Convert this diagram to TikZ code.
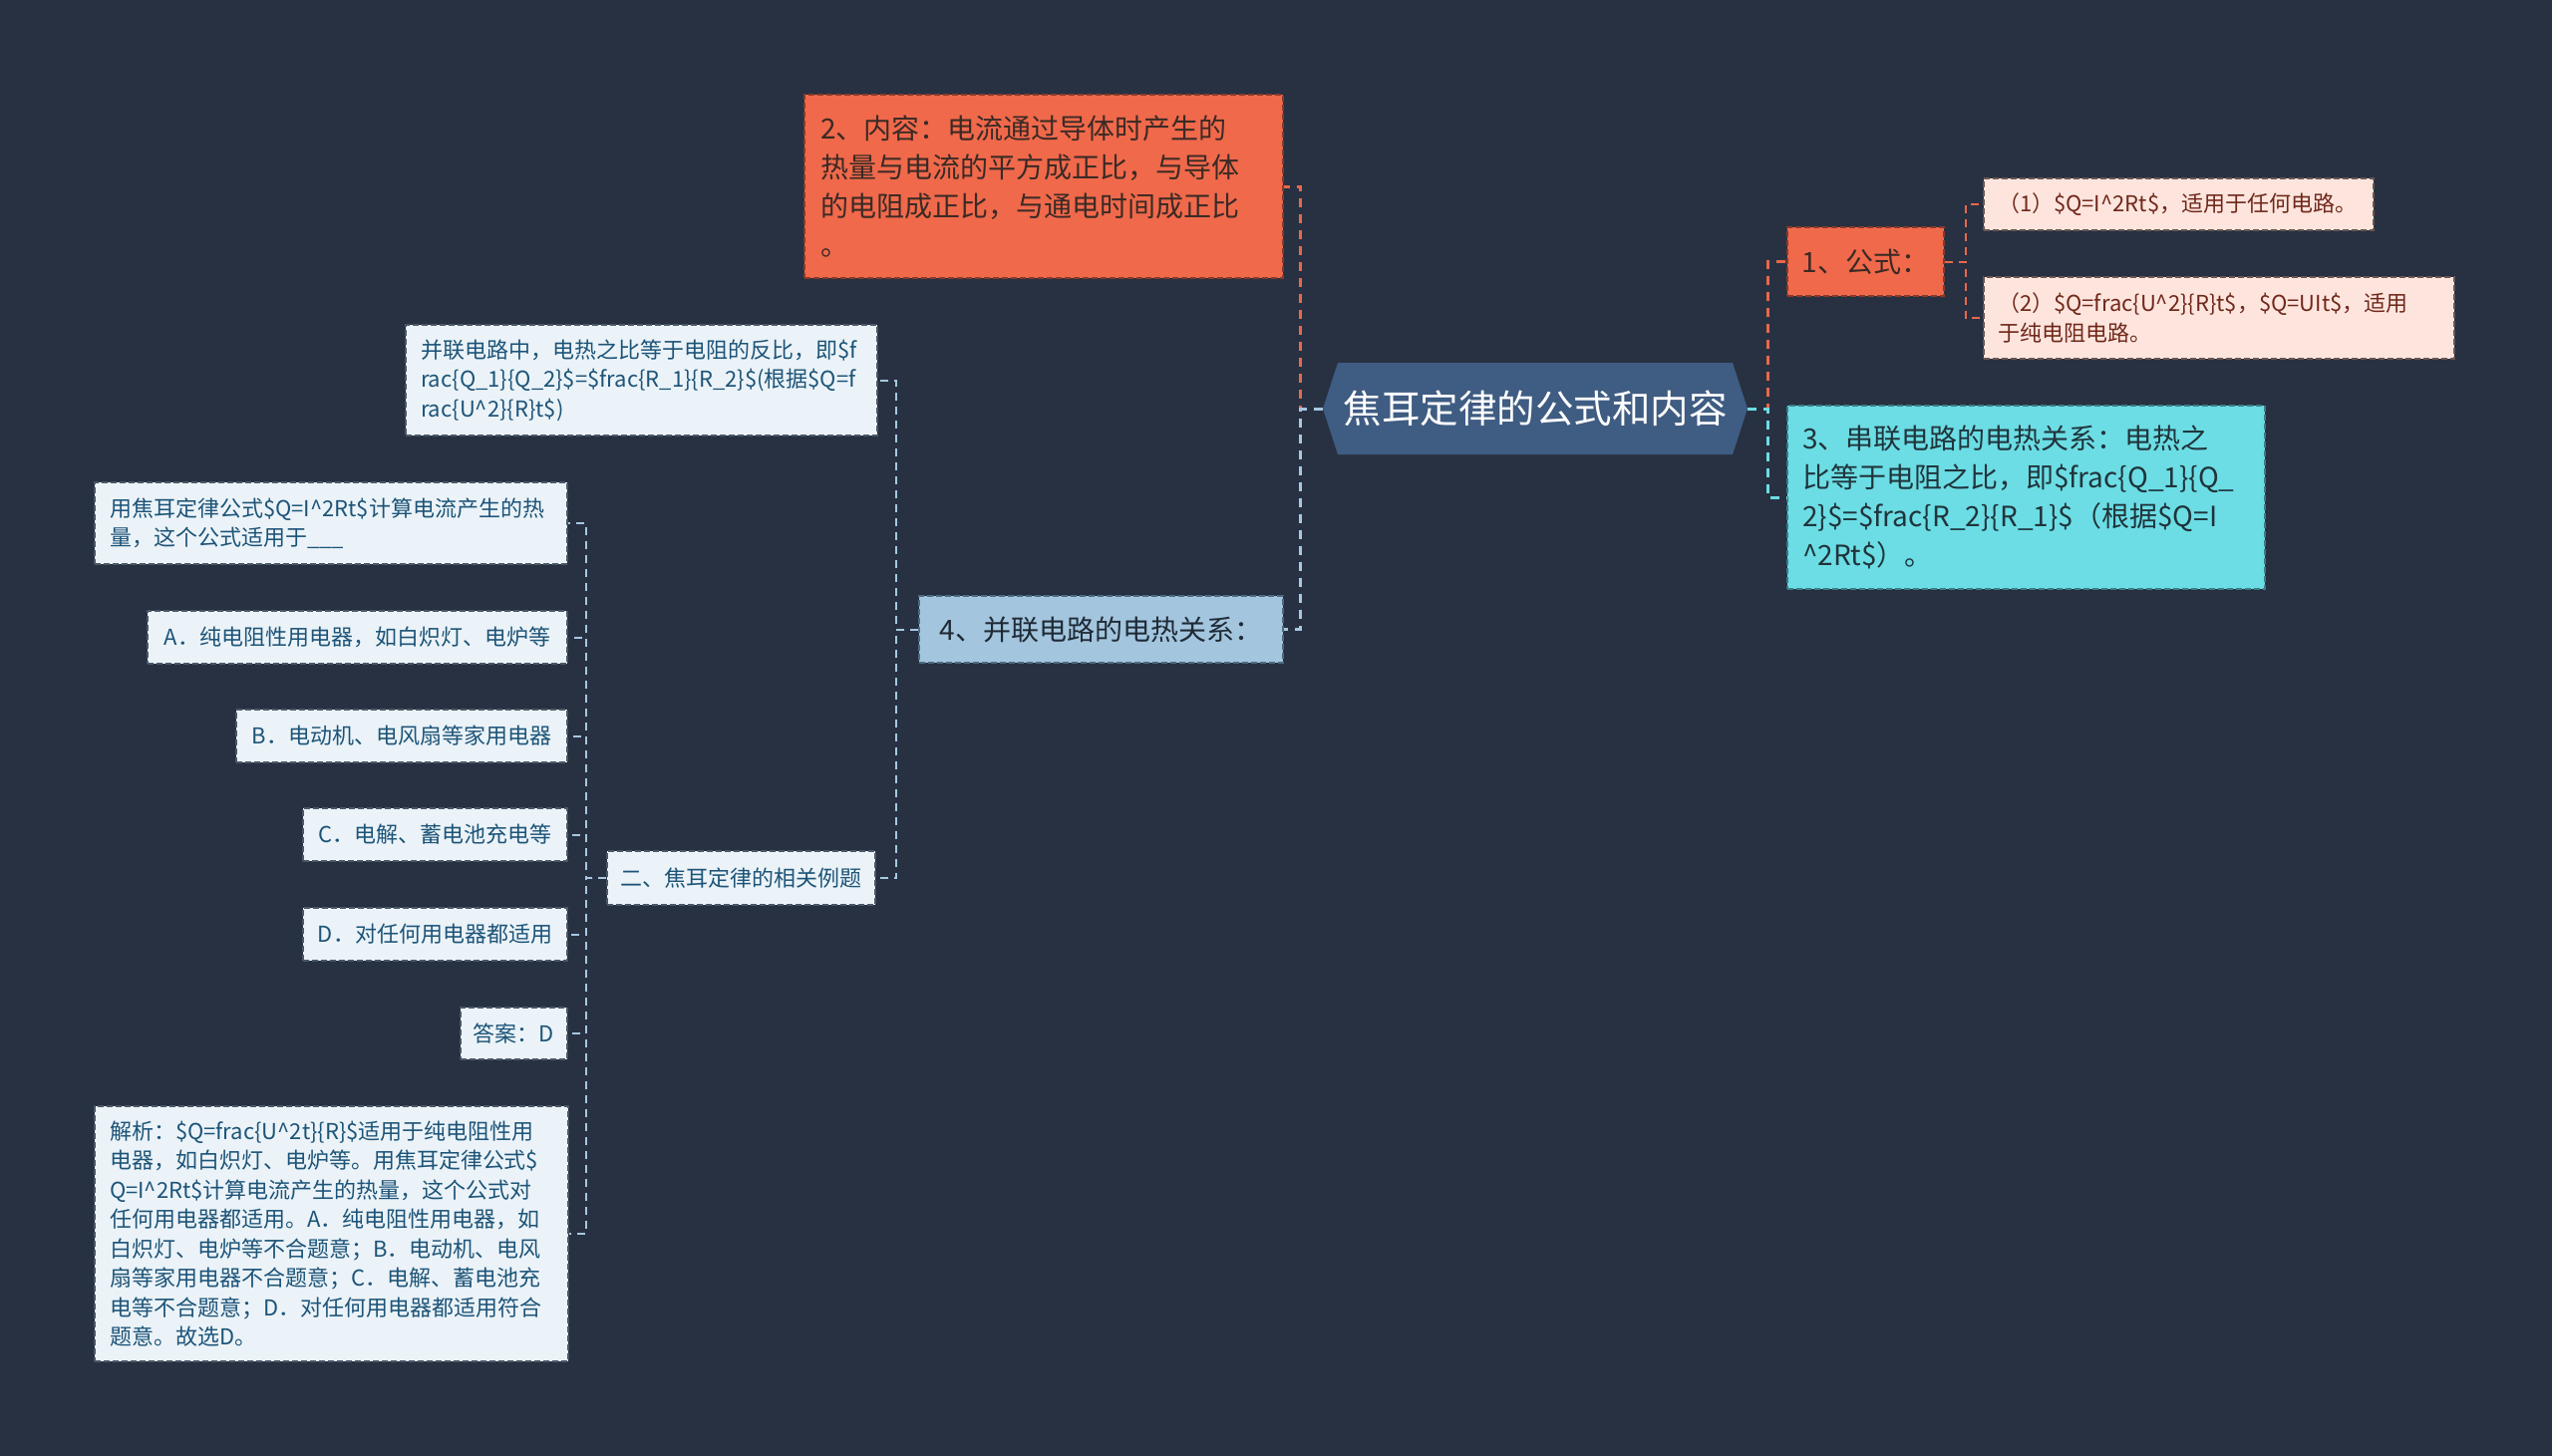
\documentclass[tikz,border=0pt]{standalone}
\usepackage{fontspec}
\setmainfont{Noto Sans CJK SC}
\definecolor{bg}{HTML}{283142}
\definecolor{cRoot}{HTML}{3F5C82}
\definecolor{cOr}{HTML}{F0694B}
\definecolor{cOrB}{HTML}{8A3A28}
\definecolor{cOrT}{HTML}{3A2A25}
\definecolor{cPk}{HTML}{FDE5DE}
\definecolor{cPkB}{HTML}{6A5550}
\definecolor{cPkT}{HTML}{70281A}
\definecolor{cCy}{HTML}{6CDDE4}
\definecolor{cCyB}{HTML}{3A7E84}
\definecolor{cCyT}{HTML}{20343C}
\definecolor{cSt}{HTML}{A3C5DE}
\definecolor{cStB}{HTML}{4E6A80}
\definecolor{cStT}{HTML}{1F2A36}
\definecolor{cLt}{HTML}{EBF3F8}
\definecolor{cLtB}{HTML}{4A5868}
\definecolor{cLtT}{HTML}{1D5478}
\definecolor{lnOr}{HTML}{E8684B}
\definecolor{lnBl}{HTML}{A6C8E0}
\definecolor{lnCy}{HTML}{6CDDE4}
\newcommand\FsRoot{\fontsize{38.5}{46}\selectfont}
\newcommand\FsBig{\fontsize{28}{39}\selectfont}
\newcommand\FsSm{\fontsize{22}{29.5}\selectfont}
\newcommand\crt{\textasciicircum}
\tikzset{
  bx/.style={rectangle, line width=1.5pt, dash pattern=on 6pt off 3pt, inner ysep=0pt, anchor=center},
  orbox/.style={bx, fill=cOr, draw=cOrB, text=cOrT, font=\FsBig},
  pkbox/.style={bx, fill=cPk, draw=cPkB, text=cPkT, font=\FsSm},
  cybox/.style={bx, fill=cCy, draw=cCyB, text=cCyT, font=\FsBig},
  stbox/.style={bx, fill=cSt, draw=cStB, text=cStT, font=\FsBig},
  ltbox/.style={bx, fill=cLt, draw=cLtB, text=cLtT, font=\FsSm},
  conA/.style={line width=3pt, dash pattern=on 9pt off 7pt},
  conB/.style={line width=2pt, dash pattern=on 8pt off 6pt},
}
\begin{document}
\begin{tikzpicture}[x=1pt,y=-1pt]
\fill[bg] (0,0) rectangle (2560,1461);
\useasboundingbox (0,0) rectangle (2560,1461);

% root hexagon
\fill[cRoot] (1327,410) -- (1342,364) -- (1738,364) -- (1753,410) -- (1738,456) -- (1342,456) -- cycle;
\node[rectangle, minimum width=426pt, minimum height=92pt, inner sep=0pt, text=white, font=\FsRoot] (root) at (1540,410) {焦耳定律的公式和内容};

% right side
\node[orbox, inner xsep=10pt, text width=137pt, minimum height=69pt, align=center] (n1) at (1871.5,262.5) {1、公式：};
\node[pkbox, inner xsep=14pt, text width=363pt, minimum height=52pt, align=left] (s1) at (2185.5,205) {（1）\$Q=I\crt{}2Rt\$，适用于任何电路。};
\node[pkbox, inner xsep=14pt, text width=444pt, minimum height=82pt, align=left] (s2) at (2226,319) {（2）\$Q=frac\{U\crt{}2\}\{R\}t\$，\$Q=UIt\$，适用\\于纯电阻电路。};
\node[cybox, inner xsep=15pt, text width=449pt, minimum height=184pt, align=left] (n3) at (2032.5,499) {3、串联电路的电热关系：电热之\\比等于电阻之比，即\$frac\{Q\_1\}\{Q\_\\2\}\$=\$frac\{R\_2\}\{R\_1\}\$（根据\$Q=I\\\crt{}2Rt\$）。};

% left side top
\node[orbox, inner xsep=16pt, text width=448pt, minimum height=184pt, align=left] (n2) at (1047,187) {2、内容：电流通过导体时产生的\\热量与电流的平方成正比，与导体\\的电阻成正比，与通电时间成正比\\。};
\node[stbox, inner xsep=10pt, text width=345pt, minimum height=67pt, align=center] (n4) at (1104.5,631.5) {4、并联电路的电热关系：};
\node[ltbox, inner xsep=15pt, text width=443pt, minimum height=111pt, align=left] (p) at (643.5,381.5) {并联电路中，电热之比等于电阻的反比，即\$f\\rac\{Q\_1\}\{Q\_2\}\$=\$frac\{R\_1\}\{R\_2\}\$(根据\$Q=f\\rac\{U\crt{}2\}\{R\}t\$)};
\node[ltbox, inner xsep=10pt, text width=249pt, minimum height=54pt, align=center] (e) at (743.5,881) {二、焦耳定律的相关例题};

% examples
\node[ltbox, inner xsep=15pt, text width=444pt, minimum height=82pt, align=left] (q) at (332,525) {用焦耳定律公式\$Q=I\crt{}2Rt\$计算电流产生的热\\量，这个公式适用于\_\_\_};
\node[ltbox, inner xsep=10pt, text width=401pt, minimum height=53pt, align=center] (a) at (358.5,639.5) {A．纯电阻性用电器，如白炽灯、电炉等};
\node[ltbox, inner xsep=10pt, text width=312pt, minimum height=53pt, align=center] (b) at (403,738.5) {B．电动机、电风扇等家用电器};
\node[ltbox, inner xsep=10pt, text width=245pt, minimum height=53pt, align=center] (c) at (436.5,837.5) {C．电解、蓄电池充电等};
\node[ltbox, inner xsep=10pt, text width=245pt, minimum height=53pt, align=center] (d) at (436.5,937.5) {D．对任何用电器都适用};
\node[ltbox, inner xsep=10pt, text width=87pt, minimum height=52pt, align=center] (ans) at (515.5,1037) {答案：D};
\node[ltbox, inner xsep=15pt, text width=445pt, minimum height=256pt, align=left] (j) at (332.5,1238) {解析：\$Q=frac\{U\crt{}2t\}\{R\}\$适用于纯电阻性用\\电器，如白炽灯、电炉等。用焦耳定律公式\$\\Q=I\crt{}2Rt\$计算电流产生的热量，这个公式对\\任何用电器都适用。A．纯电阻性用电器，如\\白炽灯、电炉等不合题意；B．电动机、电风\\扇等家用电器不合题意；C．电解、蓄电池充\\电等不合题意；D．对任何用电器都适用符合\\题意。故选D。};

% connectors from root
\draw[conA, lnOr] (root.west) -- ++(-22,0) |- (n2.east);
\draw[conA, lnBl] (root.west) -- ++(-22,0) |- (n4.east);
\draw[conA, lnOr] (root.east) -- ++(20,0) |- (n1.west);
\draw[conA, lnCy] (root.east) -- ++(20,0) |- (n3.west);

% second level
\draw[conB, lnOr] (n1.east) -- ++(21,0) |- (s1.west);
\draw[conB, lnOr] (n1.east) -- ++(21,0) |- (s2.west);
\draw[conB, lnBl] (n4.west) -- ++(-22,0) |- (p.east);
\draw[conB, lnBl] (n4.west) -- ++(-22,0) |- (e.east);

% third level
\foreach \t in {q,a,b,c,d,ans,j}{
  \draw[conB, lnBl] (e.west) -- ++(-20,0) |- (\t.east);
}
\end{tikzpicture}
\end{document}
